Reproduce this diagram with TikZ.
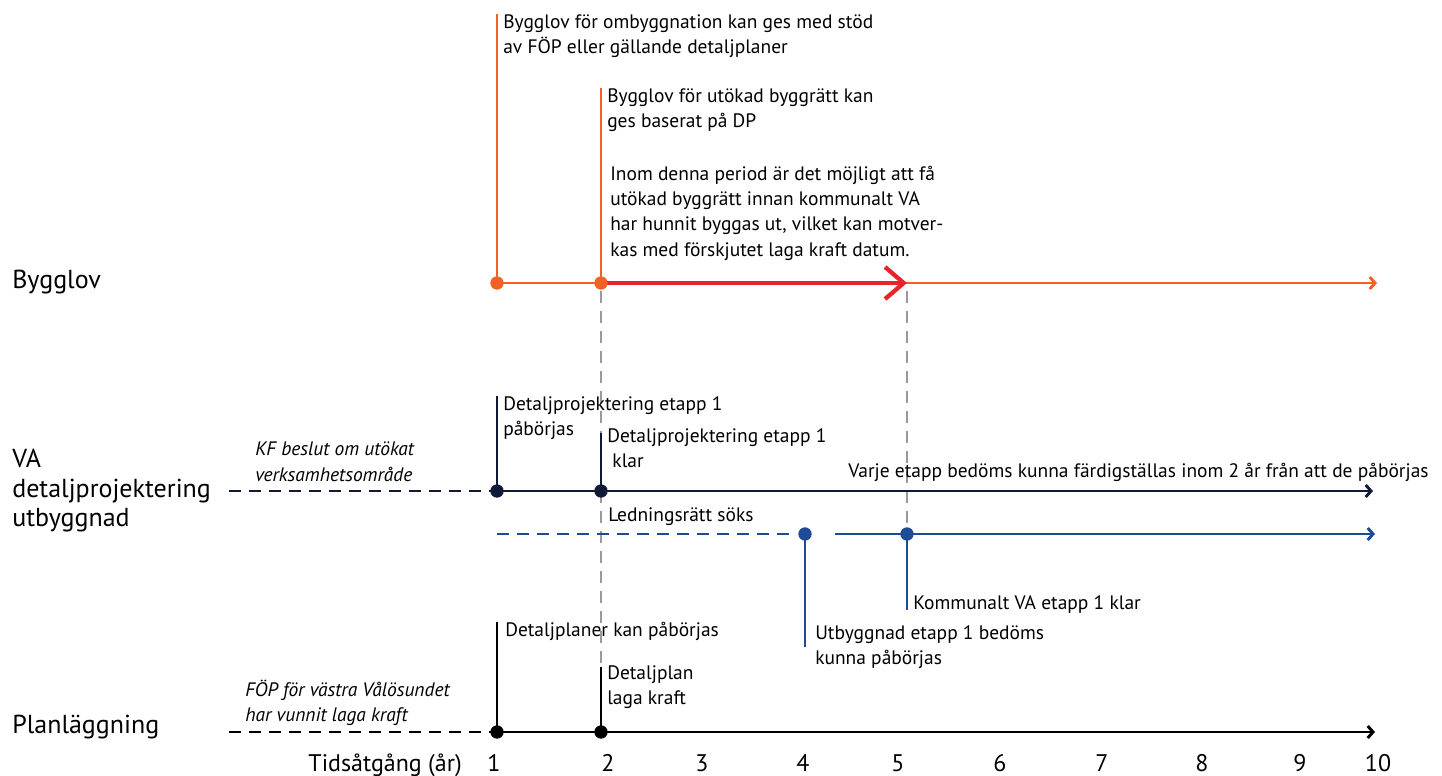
\documentclass[tikz,border=0pt]{standalone}
\usepackage{fontspec}
\setmainfont{PT Sans}
\usetikzlibrary{arrows.meta, positioning}

\definecolor{bygg}{HTML}{F26125}
\definecolor{period}{HTML}{E8242B}
\definecolor{vanavy}{HTML}{0E1A36}
\definecolor{vablue}{HTML}{1E4B97}
\definecolor{guide}{HTML}{9A9A9A}

\begin{document}
\begin{tikzpicture}[x=0.75pt,y=-0.75pt,
  every node/.style={inner sep=0pt},
  txt/.style={font=\fontsize{14.6}{18.9}\selectfont, align=left, anchor=north west},
  note/.style={txt, font=\itshape\fontsize{14.6}{18.9}\selectfont},
  head/.style={font=\fontsize{19.5}{22}\selectfont, align=left},
  axis/.style={font=\fontsize{18}{22}\selectfont},
  tl/.style={line width=2.2pt, draw=#1, -{Straight Barb[length=4pt,width=9pt]}},
  vl/.style={line width=2pt, draw=#1},
  dl/.style={line width=2pt, draw=#1, dash pattern=on 9pt off 6pt},
  gl/.style={line width=1.1pt, draw=guide, dash pattern=on 9pt off 6pt},
  dot/.style={circle, fill=#1, minimum size=10pt}]
 \useasboundingbox (0,0) rectangle (1442,775);

 % Bygglov
 \coordinate (b_1) at (497,283);
 \coordinate (b_2) at (601,283);
 \coordinate (b_5) at (907,283);
 \coordinate (b_end) at (1377,283);
 \coordinate (b_1t) at (497,14);
 \coordinate (b_2t) at (601,88);
 \draw[tl=bygg] (b_1) -- (b_end);
 \draw[vl=bygg] (b_1t) -- (b_1);
 \draw[vl=bygg] (b_2t) -- (b_2);
 \draw[line width=3.2pt, period, -{Straight Barb[length=14pt,width=24pt]}] (b_2) -- (b_5);
 \node[txt] (t_b1) at (503,14) {Bygglov för ombyggnation kan ges med stöd\\av FÖP eller gällande detaljplaner};
 \node[txt] (t_b2) at (607,88) {Bygglov för utökad byggrätt kan\\ges baserat på DP};
 \node[txt] (t_per) at (610,166) {Inom denna period är det möjligt att få\\utökad byggrätt innan kommunalt VA\\har hunnit byggas ut, vilket kan motver-\\kas med förskjutet laga kraft datum.};

 % guides
 \coordinate (g_2t) at (601,291);
 \coordinate (g_2b) at (601,668);
 \coordinate (g_5t) at (907,291);
 \coordinate (w_5) at (907,534);
 \draw[gl] (g_2t) -- (g_2b);
 \draw[gl] (g_5t) -- (w_5);

 % VA detaljprojektering
 \coordinate (v_0) at (229,491);
 \coordinate (v_1) at (497,491);
 \coordinate (v_2) at (601,491);
 \coordinate (v_end) at (1373,491);
 \coordinate (v_1t) at (497,396);
 \coordinate (v_2t) at (601,433);
 \draw[dl=vanavy] (v_0) -- (v_1);
 \draw[tl=vanavy] (v_1) -- (v_end);
 \draw[vl=vanavy] (v_1t) -- (v_1);
 \draw[vl=vanavy] (v_2t) -- (v_2);
 \node[txt] (t_v1) at (503,396) {Detaljprojektering etapp 1\\påbörjas};
 \node[txt] (t_v2) at (607,428) {Detaljprojektering etapp 1\\\ klar};
 \node[txt, anchor=base west] (t_varje) at (848,477) {Varje etapp bedöms kunna färdigställas inom 2 år från att de påbörjas};
 \node[note] (t_kf) at (255,442) {KF beslut om utökat\\verksamhetsområde};

 % VA utbyggnad
 \coordinate (w_0) at (497,534);
 \coordinate (w_4) at (805,534);
 \coordinate (w_4d) at (792,534);
 \coordinate (w_4s) at (835,534);
 \coordinate (w_end) at (1375,534);
 \coordinate (w_4b) at (805,647);
 \coordinate (w_5b) at (907,610);
 \draw[dl=vablue] (w_0) -- (w_4d);
 \draw[tl=vablue] (w_4s) -- (w_end);
 \draw[vl=vablue] (w_4) -- (w_4b);
 \draw[vl=vablue] (w_5) -- (w_5b);
 \node[txt, anchor=base west] (t_led) at (608,521) {Ledningsrätt söks};
 \node[txt, anchor=base west] (t_klar) at (913,609) {Kommunalt VA etapp 1 klar};
 \node[txt] (t_utb) at (815,625) {Utbyggnad etapp 1 bedöms\\kunna påbörjas};

 % Planläggning
 \coordinate (p_0) at (229,732);
 \coordinate (p_1) at (497,732);
 \coordinate (p_2) at (601,732);
 \coordinate (p_end) at (1375,732);
 \coordinate (p_1t) at (497,622);
 \coordinate (p_2t) at (601,667);
 \draw[dl=black] (p_0) -- (p_1);
 \draw[tl=black] (p_1) -- (p_end);
 \draw[vl=black] (p_1t) -- (p_1);
 \draw[vl=black] (p_2t) -- (p_2);
 \node[txt] (t_p1) at (505,622) {Detaljplaner kan påbörjas};
 \node[txt] (t_p2) at (607,665) {Detaljplan\\laga kraft};
 \node[note] (t_fop) at (245,680) {FÖP för västra Vålösundet\\har vunnit laga kraft};

 % dots
 \foreach \c/\col in {b_1/bygg, b_2/bygg, v_1/vanavy, v_2/vanavy, w_4/vablue, w_5/vablue, p_1/black, p_2/black}
   \node[dot=\col] (d_\c) at (\c) {};

 % row heads
 \node[head, anchor=base west] (h_bygg) at (12,288) {Bygglov};
 \node[head, anchor=north west] (h_va) at (12,449) {VA\\detaljprojektering\\utbyggnad};
 \node[head, anchor=base west] (h_plan) at (12,733) {Planläggning};

 % time axis
 \node[axis, anchor=base east] (h_tid) at (462,771) {Tidsåtgång (år)};
 \foreach \x [count=\n] in {494,608,702,803,898,1000,1102,1202,1300,1378}
   \node[axis, anchor=base] (yr_\n) at (\x,771) {\n};
\end{tikzpicture}
\end{document}
